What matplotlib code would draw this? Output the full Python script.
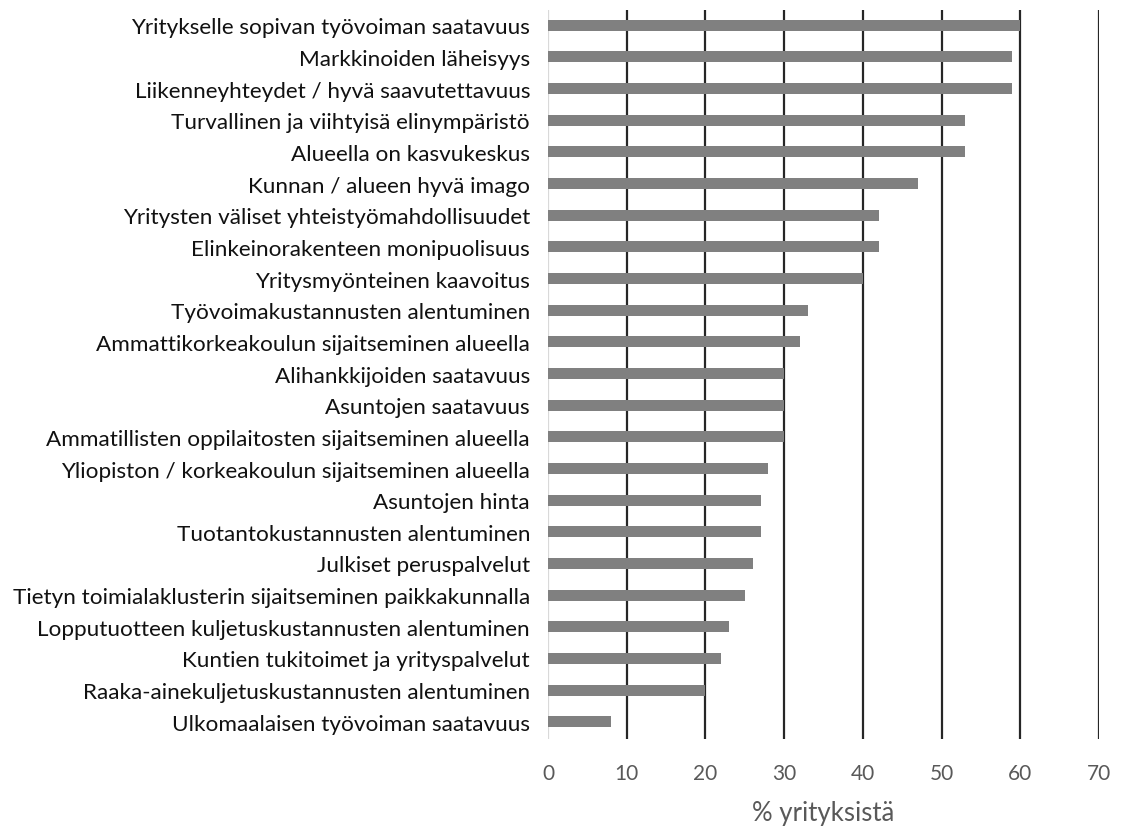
import matplotlib
matplotlib.use("Agg")
import matplotlib.pyplot as plt

plt.rcParams['font.family'] = ['Lato', 'DejaVu Sans']

factors = [
    "Yritykselle sopivan työvoiman saatavuus",
    "Markkinoiden läheisyys",
    "Liikenneyhteydet / hyvä saavutettavuus",
    "Turvallinen ja viihtyisä elinympäristö",
    "Alueella on kasvukeskus",
    "Kunnan / alueen hyvä imago",
    "Yritysten väliset yhteistyömahdollisuudet",
    "Elinkeinorakenteen monipuolisuus",
    "Yritysmyönteinen kaavoitus",
    "Työvoimakustannusten alentuminen",
    "Ammattikorkeakoulun sijaitseminen alueella",
    "Alihankkijoiden saatavuus",
    "Asuntojen saatavuus",
    "Ammatillisten oppilaitosten sijaitseminen alueella",
    "Yliopiston / korkeakoulun sijaitseminen alueella",
    "Asuntojen hinta",
    "Tuotantokustannusten alentuminen",
    "Julkiset peruspalvelut",
    "Tietyn toimialaklusterin sijaitseminen paikkakunnalla",
    "Lopputuotteen kuljetuskustannusten alentuminen",
    "Kuntien tukitoimet ja yrityspalvelut",
    "Raaka-ainekuljetuskustannusten alentuminen",
    "Ulkomaalaisen työvoiman saatavuus",
]
shares = [60, 59, 59, 53, 53, 47, 42, 42, 40, 33, 32, 30, 30, 30, 28, 27, 27,
          26, 25, 23, 22, 20, 8]
x_ticks = [0, 10, 20, 30, 40, 50, 60, 70]

fig = plt.figure(figsize=(11.27, 8.28), dpi=100)
ax = fig.add_axes([0.4863, 0.106, 0.4889, 0.8807])

pos = list(range(len(factors)))
ax.barh(pos, shares, height=0.35, color="#808080", zorder=3)

ax.set_ylim(len(factors) - 0.45, -0.48)
ax.set_xlim(0, 70)
ax.set_xticks(x_ticks)
ax.set_yticks(pos)
ax.set_yticklabels(factors, fontsize=16.2, color="#111111")

for x in x_ticks[1:]:
    ax.axvline(x, color="#262626", lw=1.6, zorder=1)
ax.axvline(0, color="#d9d9d9", lw=1.6, zorder=2)

for s in ax.spines.values():
    s.set_visible(False)
ax.tick_params(axis="y", length=0, pad=13)
ax.tick_params(axis="x", length=0, pad=17, labelsize=15, labelcolor="#595959")
ax.set_xlabel("% yrityksistä", fontsize=18.5, color="#595959", labelpad=12)

fig.savefig("out.png", dpi=100)
